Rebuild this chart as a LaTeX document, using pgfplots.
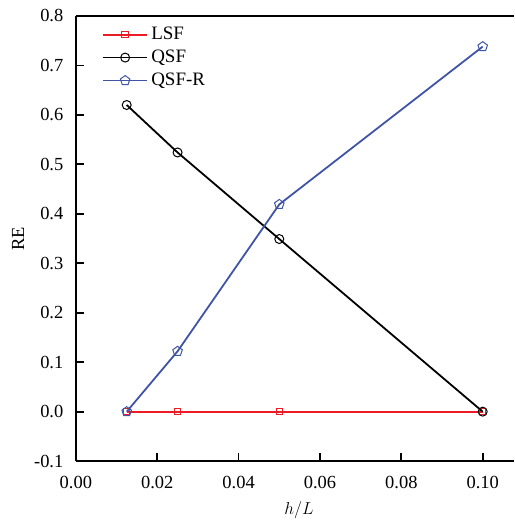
\documentclass[border=0pt]{standalone}
\usepackage{pgfplots}
\pgfplotsset{compat=1.18}
\usepackage{fontspec}
\setmainfont{Liberation Serif}
\definecolor{cred}{RGB}{237,28,36}
\definecolor{cblue}{RGB}{63,84,166}
\begin{document}
\begin{tikzpicture}
\begin{axis}[
  scale only axis,
  width=439pt, height=446pt,
  xmin=0, xmax=0.1077, ymin=-0.1, ymax=0.8,
  axis x line*=box, axis y line*=left,
  xtick pos=bottom, ytick pos=left,
  tick align=inside,
  major tick length=8pt,
  axis line style={line width=1.7pt},
  every tick/.style={line width=1.7pt, black},
  xtick={0,0.02,0.04,0.06,0.08,0.1},
  ytick={-0.1,0,0.1,0.2,0.3,0.4,0.5,0.6,0.7,0.8},
  scaled x ticks=false, scaled y ticks=false,
  tick label style={font=\fontsize{18.5}{21}\selectfont},
  xticklabel style={yshift=-12pt, /pgf/number format/fixed, /pgf/number format/fixed zerofill, /pgf/number format/precision=2, /pgf/number format/assume math mode=true},
  yticklabel style={xshift=-9pt, /pgf/number format/fixed, /pgf/number format/fixed zerofill, /pgf/number format/precision=1, /pgf/number format/assume math mode=true},
  label style={font=\fontsize{18.5}{21}\selectfont},
  xlabel={$h/L$},
  ylabel={RE},
  xlabel style={at={(axis description cs:0.5,0)}, anchor=center, inner sep=0pt, yshift=-49pt, xshift=4pt},
  ylabel style={at={(axis description cs:0,0.5)}, anchor=center, inner sep=0pt, rotate=0, yshift=58pt},
  legend style={at={(rel axis cs:0,1)}, anchor=north west, xshift=26pt, yshift=-7pt, draw=none, fill=none, inner sep=0pt, font=\fontsize{19}{22}\selectfont, row sep=0pt, nodes={text height=13pt, text depth=4pt, inner sep=3pt}},
  legend cell align=left,
  legend image code/.code={\draw[mark repeat=2,mark phase=2] plot coordinates {(0cm,0cm) (0.78cm,0cm) (1.56cm,0cm)};},
  clip=false,
  extra description/.code={
    \path (rel axis cs:0,1) ++(-76pt,16pt);
    \path (rel axis cs:1,0) ++(0pt,-60pt);
  },
]
\addplot[cred, line width=2pt, mark=square, mark size=3.2pt, mark options={solid, line width=1pt, fill=white}]
  coordinates {(0.0125,0) (0.025,0) (0.05,0) (0.1,0)};
\addlegendentry{LSF}
\addplot[black, line width=1.8pt, mark=o, mark size=4.5pt, mark options={solid, line width=1pt, fill=white}]
  coordinates {(0.0125,0.620) (0.025,0.524) (0.05,0.349) (0.1,0)};
\addlegendentry{QSF}
\addplot[cblue, line width=1.8pt, mark=pentagon, mark size=5pt, mark options={solid, line width=1pt, fill=white}]
  coordinates {(0.0125,0) (0.025,0.122) (0.05,0.419) (0.1,0.738)};
\addlegendentry{QSF-R}
\end{axis}
\end{tikzpicture}
\end{document}
